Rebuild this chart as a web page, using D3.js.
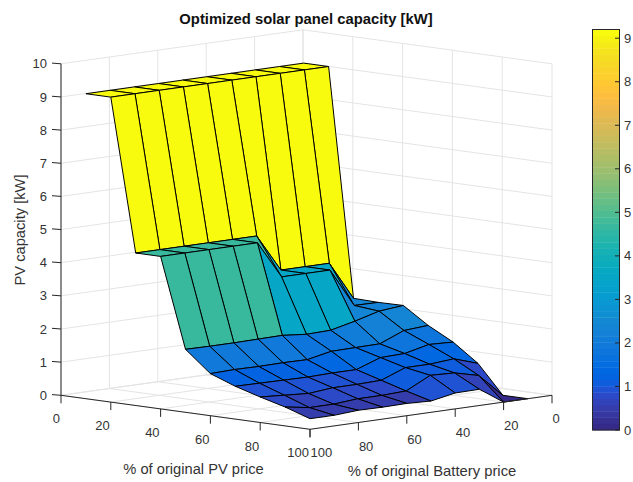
<!DOCTYPE html>
<html><head><meta charset="utf-8">
<script src="https://cdn.jsdelivr.net/npm/d3@7"></script>
<style>html,body{margin:0;padding:0;background:#fff}svg{display:block}text{font-family:"Liberation Sans",Arial,sans-serif;fill:#333}</style>
</head><body><div id="c"></div>
<script>
const pvGrid=[10,20,30,40,50,60,70,80,90,100];
const batteryGrid=[100,90,80,70,60,50,40,30,20,10];
// capacity per row (PV price) over batteryGrid
const capPV10=[9.2,9.2,9.2,9.2,9.2,9.2,9.2,9.2,9.2,9.2];
const capPV20=[9.2,9.2,9.2,9.2,9.2,9.2,9.2,9.2,9.2,9.2];
const capPV30=[4.6,4.6,4.6,4.6,4.6,4.6,3.47,3.47,3.47,2.31];
const capPV40=[4.6,4.6,4.6,4.6,4.6,3.47,3.47,3.47,2.30,2.29];
const capPV50=[1.90,1.89,1.89,1.90,1.91,1.84,1.86,2.03,2.23,2.30];
const capPV60=[1.27,1.29,1.28,1.29,1.28,1.43,1.44,1.45,1.75,1.80];
const capPV70=[0.99,0.98,0.97,0.96,0.98,0.98,1.24,1.26,1.43,1.40];
const capPV80=[0.77,0.72,0.67,0.74,0.74,0.76,1.04,1.04,1.10,0.86];
const capPV90=[0.57,0.45,0.45,0.51,0.51,0.54,0.91,0.88,0.70,0.00];
const capPV100=[0.32,0.32,0.37,0.36,0.37,0.34,0.48,0.49,0.00,0.00];
const capacity=[capPV10,capPV20,capPV30,capPV40,capPV50,capPV60,capPV70,capPV80,capPV90,capPV100];
const pvTicks=[0,20,40,60,80,100];
const batteryTicks=[0,20,40,60,80,100];
const zTicks=[0,1,2,3,4,5,6,7,8,9,10];
const barTicks=[0,1,2,3,4,5,6,7,8,9];
const titleText="Optimized solar panel capacity [kW]";
const pvLabel="% of original PV price";
const batteryLabel="% of original Battery price";
const zLabel="PV capacity [kW]";
const parula=[[.2081,.1663,.5292],[.2116,.1898,.5777],[.2123,.2138,.627],[.2081,.2386,.6771],[.1959,.2645,.7279],[.1707,.2919,.7792],[.1253,.3242,.8303],[.0591,.3598,.8683],[.0117,.3875,.882],[.006,.4086,.8828],[.0165,.4266,.8786],[.0329,.443,.872],[.0498,.4586,.8641],[.0629,.4737,.8554],[.0723,.4887,.8467],[.0779,.504,.8384],[.0793,.52,.8312],[.0749,.5375,.8263],[.0641,.557,.824],[.0488,.5772,.8228],[.0343,.5966,.8199],[.0265,.6137,.8135],[.0239,.6287,.8038],[.0231,.6418,.7913],[.0228,.6535,.7768],[.0267,.6642,.7607],[.0384,.6743,.7436],[.059,.6838,.7254],[.0843,.6928,.7062],[.1133,.7015,.6859],[.1453,.7098,.6646],[.1801,.7177,.6424],[.2178,.725,.6193],[.2586,.7317,.5954],[.3022,.7376,.5712],[.3482,.7424,.5473],[.3953,.7459,.5244],[.442,.7481,.5033],[.4871,.7491,.484],[.53,.7491,.4661],[.5709,.7485,.4494],[.6099,.7473,.4337],[.6473,.7456,.4188],[.6834,.7435,.4044],[.7184,.7411,.3905],[.7525,.7384,.3768],[.7858,.7356,.3633],[.8185,.7327,.3498],[.8507,.7299,.336],[.8824,.7274,.3217],[.9139,.7258,.3063],[.945,.7261,.2886],[.9739,.7314,.2666],[.9938,.7455,.2403],[.999,.7653,.2164],[.9955,.7861,.1967],[.988,.8066,.1794],[.9789,.8271,.1633],[.9697,.8481,.1475],[.9626,.8705,.1309],[.9589,.8949,.1132],[.9598,.9218,.0948],[.9661,.9514,.0755],[.9763,.9831,.0538]];
const cmax=9.2;

const svg=d3.select("#c").append("svg").attr("width",633).attr("height",482);
// oblique projection built from linear scales
const pvX=d3.scaleLinear([0,100],[0,249]), pvY=d3.scaleLinear([0,100],[0,34]);
const batX=d3.scaleLinear([100,0],[0,242]), batY=d3.scaleLinear([100,0],[0,-34]);
const zY=d3.scaleLinear([0,10],[0,-331.5]);
const P=(pv,b,z=0)=>[61+pvX(pv)+batX(b),395.3+pvY(pv)+batY(b)+zY(z)];
const line=d3.line();
const colour=v=>{const i=Math.min(63,Math.floor(v/cmax*64));const c=parula[i];return d3.rgb(c[0]*255,c[1]*255,c[2]*255).formatHex();};

// grid
const g=svg.append("g").attr("fill","none").attr("stroke","#e4e4e4").attr("stroke-width",1);
const seg=(a,b,s)=>s.append("path").attr("d",line([a,b]));
pvTicks.forEach(p=>{seg(P(p,100),P(p,0),g);seg(P(p,0,0),P(p,0,10),g);});
batteryTicks.forEach(b=>{seg(P(0,b),P(100,b),g);seg(P(0,b,0),P(0,b,10),g);});
zTicks.forEach(z=>{seg(P(0,100,z),P(0,0,z),g);seg(P(0,0,z),P(100,0,z),g);});

// surface: heightfield painter order from the back corner to the viewer
const s=svg.append("g").attr("stroke","#000").attr("stroke-width",1).attr("stroke-linejoin","round");
for(let i=0;i<pvGrid.length-1;i++){
  for(let j=batteryGrid.length-2;j>=0;j--){
    const pts=[P(pvGrid[i],batteryGrid[j],capacity[i][j]),P(pvGrid[i],batteryGrid[j+1],capacity[i][j+1]),P(pvGrid[i+1],batteryGrid[j+1],capacity[i+1][j+1]),P(pvGrid[i+1],batteryGrid[j],capacity[i+1][j])];
    s.append("path").attr("d",line(pts)+"Z").attr("fill",colour(capacity[i][j+1]));
  }
}

// axes
const ax=svg.append("g").attr("stroke","#262626").attr("stroke-width",1).attr("fill","none");
seg(P(0,100,0),P(100,100,0),ax);seg(P(100,100,0),P(100,0,0),ax);seg(P(0,100,0),P(0,100,10),ax);
const tl=svg.append("g").attr("font-size",13);
pvTicks.forEach(p=>{const a=P(p,100);seg(a,[a[0],a[1]+8],ax);
  tl.append("text").attr("x",a[0]-1).attr("y",a[1]+28).attr("text-anchor","end").text(p);});
batteryTicks.forEach(b=>{const a=P(100,b);seg(a,[a[0],a[1]+8],ax);
  tl.append("text").attr("x",a[0]+.5).attr("y",a[1]+28).attr("text-anchor","start").text(b);});
zTicks.forEach(z=>{const a=P(0,100,z);seg(a,[a[0]-9,a[1]-.7],ax);
  tl.append("text").attr("x",a[0]-14).attr("y",a[1]+4.6).attr("text-anchor","end").text(z);});

svg.append("text").attr("x",306).attr("y",23.5).attr("text-anchor","middle").attr("font-size",14.8).attr("font-weight","bold").attr("style","fill:#111").text(titleText);
svg.append("text").attr("x",193.5).attr("y",473.5).attr("text-anchor","middle").attr("font-size",14.7).text(pvLabel);
svg.append("text").attr("x",432).attr("y",476).attr("text-anchor","middle").attr("font-size",14.8).text(batteryLabel);
svg.append("text").attr("transform","translate(24.5,230) rotate(-90)").attr("text-anchor","middle").attr("font-size",14.7).text(zLabel);

// colourbar
const barY=d3.scaleLinear([0,cmax],[430,29.5]);
const cb=svg.append("g");
parula.forEach((c,i)=>{const v0=i/64*cmax,v1=(i+1)/64*cmax;
  cb.append("rect").attr("x",592.5).attr("width",27).attr("y",barY(v1)).attr("height",barY(v0)-barY(v1)+.4).attr("fill",colour(v0+.001));});
cb.append("rect").attr("x",592.5).attr("y",barY(cmax)).attr("width",27).attr("height",barY(0)-barY(cmax)).attr("fill","none").attr("stroke","#262626");
barTicks.forEach(t=>{const y=barY(t);cb.append("path").attr("d",line([[619.5,y],[615,y]])).attr("stroke","#262626");
  cb.append("text").attr("x",624).attr("y",y+4.5).attr("font-size",13).text(t);});
</script></body></html>
